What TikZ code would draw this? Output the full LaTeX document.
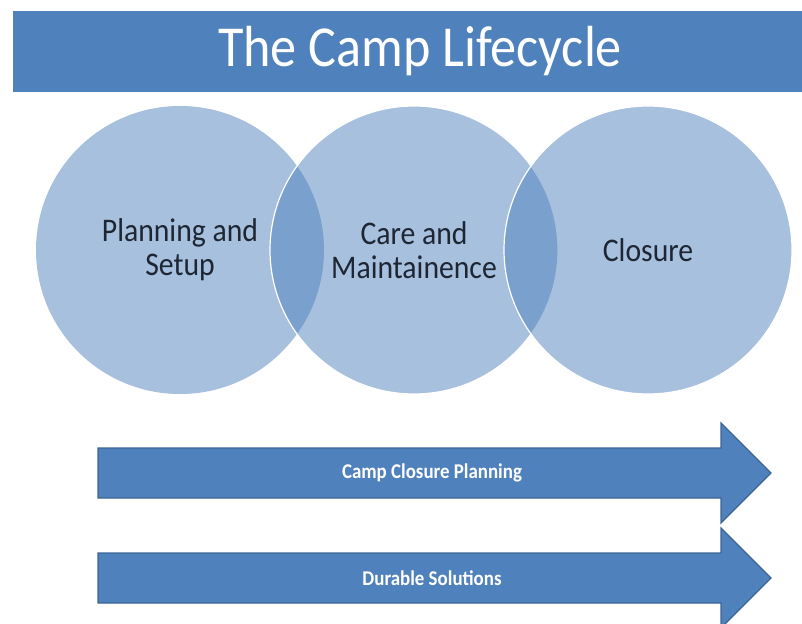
\documentclass[tikz,border=0pt]{standalone}
\usepackage{xcolor}
\usepackage{fontspec}
\setmainfont{Carlito}[FakeStretch=0.9]
\usepackage{tikz}
\usetikzlibrary{positioning}

\definecolor{accent}{HTML}{4F81BD}
\definecolor{accentline}{HTML}{3C6596}
\definecolor{labeltext}{HTML}{1E2633}

\begin{document}
\begin{tikzpicture}[
  x=1pt, y=-1pt,
  titlebar/.style={rectangle, fill=accent, text=white, minimum width=814pt, minimum height=81pt, inner sep=0pt, font=\fontsize{58}{64}\selectfont},
  stage/.style={circle, fill=accent, fill opacity=0.5, text opacity=1, text=labeltext, minimum size=288pt, inner sep=0pt, align=center, font=\fontsize{33}{34}\selectfont},
  blockarrow/.style={fill=accent, draw=accentline, line width=1.2pt, line join=miter},
  arrowlabel/.style={text=white, font=\bfseries\fontsize{21}{24}\selectfont}
]
\useasboundingbox (0,0) rectangle (802,623);
\node[titlebar] (title) at (420,51.5) {The Camp Lifecycle};

\node[stage] (setup) at (180,250) {Planning and\\Setup};
\node[stage, draw=white, line width=1.2pt] (care) at (414,250) {Care and\\Maintainence};
\node[stage, draw=white, line width=1.2pt] (closure) at (648,250) {Closure};

\filldraw[blockarrow] (98,448) -- (721,448) -- (721,423) -- (771,473) -- (721,523) -- (721,498) -- (98,498) -- cycle;
\node[arrowlabel] (planning) at (432,473) {Camp Closure Planning};
\filldraw[blockarrow] (98,553) -- (721,553) -- (721,528) -- (771,578) -- (721,628) -- (721,603) -- (98,603) -- cycle;
\node[arrowlabel] (durable) at (432,578) {Durable Solutions};
\end{tikzpicture}
\end{document}
